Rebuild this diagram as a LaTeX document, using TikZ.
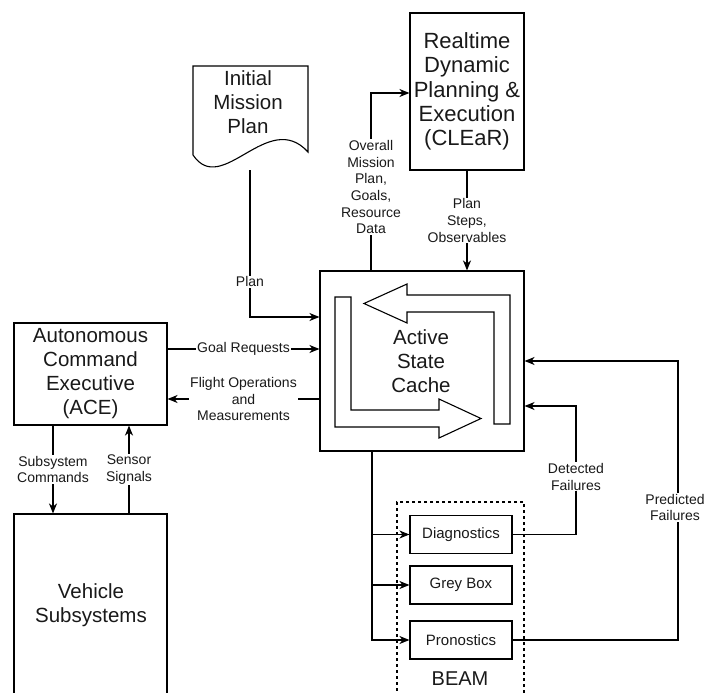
\documentclass[tikz,border=0pt]{standalone}
\usepackage{fontspec}
\setmainfont{Liberation Sans}
\usetikzlibrary{arrows.meta}
\begin{document}
\begin{tikzpicture}[x=1pt,y=-1pt,
  line width=1.1pt,
  every node/.style={text=black!90},
  box/.style={draw, rectangle, inner sep=0pt, align=center},
  bigtxt/.style={font=\fontsize{20.5}{24}\selectfont},
  hugetxt/.style={font=\fontsize{22}{24.3}\selectfont},
  midtxt/.style={font=\fontsize{15}{18}\selectfont},
  lbl/.style={fill=white, inner sep=1pt, align=center, font=\fontsize{14}{16.7}\selectfont},
  arr/.style={-{Stealth[length=10pt,width=8pt,inset=3pt]}},
  bigarrow/.style={draw, line width=1.1pt, fill=white}]
\useasboundingbox (0,0) rectangle (705,693);
\clip (0,0) rectangle (705,693);

% planner and mission plan
\node[box, hugetxt, minimum width=114pt, minimum height=157pt] (clear) at (467,91.5)
  {Realtime\\Dynamic\\Planning \&\\Execution\\(CLEaR)};
\draw (193,66) -- (308,66) -- (308,152)
  .. controls (268,108) and (222,198) .. (193,155) -- cycle;
\node[bigtxt, align=center] (doc) at (248,102) {Initial\\Mission\\Plan};
\coordinate (docbot) at (250,170);

% active state cache with circulating arrows
\node[box, minimum width=204pt, minimum height=180pt] (asc) at (422,361) {};
\path[bigarrow] (510,424) -- (510,295) -- (407,295) -- (407,284) -- (364,303.5)
  -- (407,323) -- (407,312) -- (494,312) -- (494,424) -- cycle;
\path[bigarrow] (335,297) -- (351,297) -- (351,410) -- (439,410) -- (439,399)
  -- (481,418.5) -- (439,438) -- (439,427) -- (335,427) -- cycle;
\node[bigtxt, align=center] (asctext) at (421,361) {Active\\State\\Cache};

% executive and vehicle
\node[box, bigtxt, minimum width=153pt, minimum height=102pt] (ace) at (90.5,374)
  {Autonomous\\Command\\Executive\\(ACE)};
\node[box, minimum width=153pt, minimum height=206pt] (veh) at (90.5,617) {};
\node[bigtxt, align=center] (vehtext) at (91,605) {Vehicle\\Subsystems};

% BEAM group
\node[draw, dashed, line width=1.1pt, minimum width=127pt, minimum height=220pt,
  inner sep=0pt] (beam) at (460.5,612) {};
\node[font=\fontsize{20}{24}\selectfont] (beamlbl) at (460,679) {BEAM};
\node[box, midtxt, minimum width=102pt, minimum height=38pt] (diag) at (461,534.5) {Diagnostics};
\node[box, midtxt, minimum width=102pt, minimum height=38pt] (grey) at (461,585) {Grey Box};
\node[box, midtxt, minimum width=102pt, minimum height=38pt] (prog) at (461,640) {Pronostics};

% connectors
\draw[arr] (docbot) |- node[lbl, pos=0.38] {Plan} (asc.west |- 0,317);
\draw[arr] (ace.east |- 0,349) -- node[lbl] {Goal Requests} (asc.west |- 0,349);
\draw[arr] (asc.west |- 0,399) -- node[lbl] {Flight Operations\\and\\Measurements} (ace.east |- 0,399);
\draw[arr] (ace.south -| 53,0) -- node[lbl] {Subsystem\\Commands} (veh.north -| 53,0);
\draw[arr] (veh.north -| 129,0) -- node[lbl] {Sensor\\Signals} (ace.south -| 129,0);
\draw[arr] (asc.north -| 371,0) |- node[lbl, pos=0.235]
  {Overall\\Mission\\Plan,\\Goals,\\Resource\\Data} (clear.west |- 0,93);
\draw[arr] (clear.south -| 467,0) -- node[lbl] {Plan\\Steps,\\Observables} (asc.north -| 467,0);
\coordinate (trunk) at (asc.south -| 372,0);
\draw[arr] (trunk) |- (diag.west);
\draw[arr] (trunk) |- (grey.west);
\draw[arr] (trunk) |- (prog.west);
\draw[arr] (diag.east) -- (576,534.5) -- node[lbl, pos=0.45] {Detected\\Failures}
  (576,406) -- (asc.east |- 0,406);
\draw[arr] (prog.east) -- (678,640) -- node[lbl, pos=0.475, xshift=-3pt] {Predicted\\Failures}
  (678,361) -- (asc.east |- 0,361);
\end{tikzpicture}
\end{document}
